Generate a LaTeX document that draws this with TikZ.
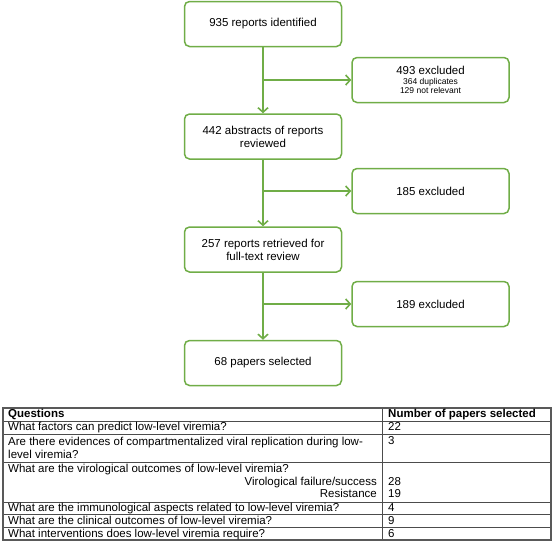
\documentclass[tikz,border=0pt]{standalone}
\usepackage{fontspec}
\setmainfont{Liberation Sans}
\usepackage{xcolor}
\usepackage{tikz}
\usetikzlibrary{arrows.meta, positioning}
\definecolor{flowgreen}{RGB}{112,173,71}
\def\flowfont{\fontsize{11.5}{13}\selectfont}
\def\smallfont{\fontsize{8.5}{10}\selectfont}
\def\tabfont{\fontsize{11.5}{13}\selectfont}
\tikzset{
    stepbox/.style={draw=flowgreen, line width=1.5pt, rounded corners=5pt, minimum width=157pt, minimum height=45pt, align=center, font=\flowfont},
    flow/.style={draw=flowgreen, line width=1.6pt, -{Straight Barb[length=4.5pt,width=10pt]}},
    qtext/.style={anchor=west, inner sep=0pt, font=\tabfont, text height=8.3pt, text depth=2.2pt},
    rule/.style={draw=black!70, line width=0.6pt},
    frame/.style={draw=black!65, line width=1.3pt}
}

\begin{document}
\begin{tikzpicture}[x=1pt, y=-1pt]
        \useasboundingbox (0,0) rectangle (555,542);

        % Main stages
        \node[stepbox] (found) at (263,24) {935 reports identified};
        \node[stepbox] (abstracts) at (263,136.5) {442 abstracts of reports\\reviewed};
        \node[stepbox] (fulltext) at (263,249.5) {257 reports retrieved for\\full-text review};
        \node[stepbox] (selected) at (263,363) {68 papers selected};

        % Exclusions
        \node[stepbox] (exclone) at (430.5,80) {493 excluded\\[-3pt]{\smallfont 364 duplicates}\\[-4pt]{\smallfont 129 not relevant}};
        \node[stepbox] (excltwo) at (430.5,191) {185 excluded};
        \node[stepbox] (exclthree) at (430.5,304) {189 excluded};

        % Flow arrows
        \draw[flow] (found) -- (abstracts);
        \draw[flow] (abstracts) -- (fulltext);
        \draw[flow] (fulltext) -- (selected);
        \draw[flow] (found |- exclone) -- (exclone);
        \draw[flow] (found |- excltwo) -- (excltwo);
        \draw[flow] (found |- exclthree) -- (exclthree);

        % Table rules
        \foreach \y in {421,434,462,502,514.5,527.5}
            \draw[rule] (3,\y) -- (551,\y);
        \draw[rule] (382.5,408) -- (382.5,540);
        \draw[frame] (3,408) rectangle (551,540);

        % Table header
        \node[qtext] (qhead) at (8,414.5) {\bfseries Questions};
        \node[qtext] (nhead) at (388,414.5) {\bfseries Number of papers selected};

        % Questions
        \node[qtext] (qpredict) at (8,427.5) {What factors can predict low-level viremia?};
        \node[qtext, align=left, text height=, text depth=] (qcompart) at (8,447.5) {Are there evidences of compartmentalized viral replication during low-\\level viremia?};
        \node[qtext] (qoutcome) at (8,469) {What are the virological outcomes of low-level viremia?};
        \node[qtext, anchor=east] (qfailure) at (377,482) {Virological failure/success};
        \node[qtext, anchor=east] (qresist) at (377,494.5) {Resistance};
        \node[qtext] (qimmune) at (8,508) {What are the immunological aspects related to low-level viremia?};
        \node[qtext] (qclinic) at (8,521) {What are the clinical outcomes of low-level viremia?};
        \node[qtext] (qinterv) at (8,534) {What interventions does low-level viremia require?};

        % Counts
        \node[qtext] (npredict) at (388,427.5) {22};
        \node[qtext] (ncompart) at (388,441) {3};
        \node[qtext] (nfailure) at (388,482) {28};
        \node[qtext] (nresist) at (388,494.5) {19};
        \node[qtext] (nimmune) at (388,508) {4};
        \node[qtext] (nclinic) at (388,521) {9};
        \node[qtext] (ninterv) at (388,534) {6};
    \end{tikzpicture}
\end{document}
